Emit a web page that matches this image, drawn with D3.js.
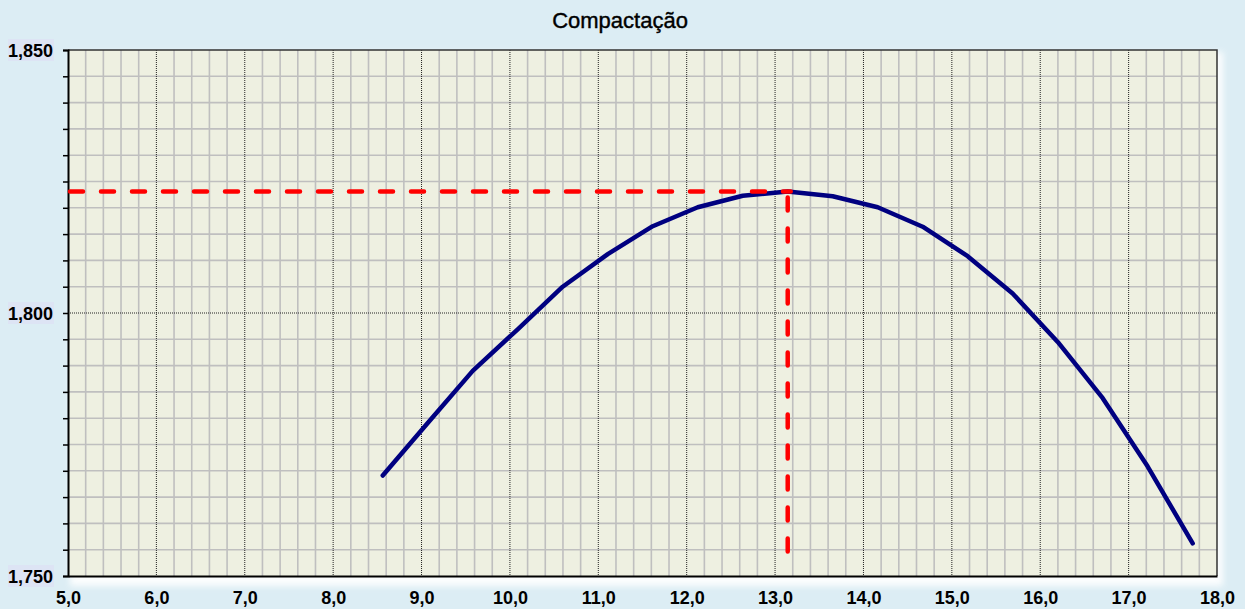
<!DOCTYPE html>
<html>
<head>
<meta charset="utf-8">
<script src="https://cdn.jsdelivr.net/npm/d3@7"></script>
<style>
  html, body { margin: 0; padding: 0; background: #dcedf4; }
  svg { display: block; }
</style>
</head>
<body>
<svg id="chart" width="1245" height="609"></svg>
<script>
// ---- data ----
const titulo = "Compactação";
const umidade = [8.561, 9.070, 9.579, 10.088, 10.597, 11.107, 11.616, 12.125, 12.634, 13.143,
                 13.652, 14.161, 14.670, 15.179, 15.688, 16.198, 16.707, 17.216, 17.725];
const densidade = [1.7691, 1.7791, 1.7890, 1.7969, 1.8050, 1.8112, 1.8165, 1.8201, 1.8223, 1.8231,
                   1.8222, 1.8201, 1.8164, 1.8108, 1.8037, 1.7945, 1.7838, 1.7708, 1.7562];
const umidadeOtima = 13.143;
const densidadeMax = 1.8231;
const xTicks = [5,6,7,8,9,10,11,12,13,14,15,16,17,18];
const yTicks = [1.75, 1.80, 1.85];

// ---- layout ----
const W = 1245, H = 609;
const L = 68, R = 1217, T = 50, B = 576;
const FONT = "'Liberation Sans', Arial, sans-serif";
const svg = d3.select("#chart");
svg.append("rect").attr("width", W).attr("height", H).attr("fill", "#dcedf4");

const x = d3.scaleLinear().domain([5, 18]).range([L, R]);
const y = d3.scaleLinear().domain([1.75, 1.85]).range([B, T]);

// shadow
const defs = svg.append("defs");
const f = defs.append("filter").attr("id", "sh").attr("x", "-5%").attr("y", "-5%").attr("width", "110%").attr("height", "120%");
f.append("feGaussianBlur").attr("stdDeviation", 3);
svg.append("rect").attr("x", L + 2).attr("y", T + 2).attr("width", R - L + 4).attr("height", B - T + 8)
  .attr("fill", "#ffffff").attr("opacity", 0.9).attr("filter", "url(#sh)");

// plot area
svg.append("rect").attr("x", L).attr("y", T).attr("width", R - L).attr("height", B - T).attr("fill", "#eef0e1");

// minor grid
const xMinor = d3.range(0, 66).map(i => 5 + i * 0.2).filter(v => Math.abs(v - Math.round(v)) > 1e-6);
const yMinor = d3.range(0, 21).map(i => 1.75 + i * 0.005).filter(v => Math.abs(v - 1.80) > 1e-6 && v > 1.7501 && v < 1.8499);
const g = svg.append("g");
g.selectAll(".xm").data(xMinor).join("line")
  .attr("x1", d => x(d)).attr("x2", d => x(d)).attr("y1", T).attr("y2", B)
  .attr("stroke", "#bfbfbf").attr("stroke-width", 1.6);
g.selectAll(".ym").data(yMinor).join("line")
  .attr("x1", L).attr("x2", R).attr("y1", d => y(d)).attr("y2", d => y(d))
  .attr("stroke", "#bfbfbf").attr("stroke-width", 1.6);
// major grid (dotted black)
g.selectAll(".xM").data(xTicks.filter(v => v > 5 && v < 18)).join("line")
  .attr("x1", d => x(d)).attr("x2", d => x(d)).attr("y1", T).attr("y2", B)
  .attr("stroke", "#222").attr("stroke-width", 1).attr("stroke-dasharray", "1,1");
g.append("line").attr("x1", L).attr("x2", R).attr("y1", y(1.80)).attr("y2", y(1.80))
  .attr("stroke", "#222").attr("stroke-width", 1).attr("stroke-dasharray", "1,1");

// border top/right
svg.append("path").attr("d", `M${L},${T}H${R}V${B}`).attr("fill", "none")
  .attr("stroke", "#333").attr("stroke-width", 1.5);

// axes
const yAxis = d3.axisLeft(y).tickValues(d3.range(0, 21).map(i => 1.75 + i * 0.005)).tickSize(5).tickFormat("");
const ya = svg.append("g").attr("transform", `translate(${L},0)`).call(yAxis);
ya.select(".domain").attr("stroke", "#000").attr("stroke-width", 2);
ya.selectAll(".tick line").attr("stroke", "#000").attr("stroke-width", 1.5);

const xAxis = d3.axisBottom(x).tickValues(xTicks).tickSize(0).tickPadding(0)
  .tickFormat(d => d3.format(".1f")(d).replace(".", ","));
const xa = svg.append("g").attr("transform", `translate(0,${B})`).call(xAxis);
xa.select(".domain").attr("stroke", "#000").attr("stroke-width", 2);
xa.selectAll(".tick text").attr("y", 28).attr("dy", 0)
  .attr("font-family", FONT).attr("font-size", 18)
  .attr("font-weight", "bold").attr("fill", "#000");

// y labels with box
const yl = svg.append("g");
yTicks.forEach(v => {
  const gg = yl.append("g");
  gg.append("rect").attr("x", 8).attr("y", y(v) - 11).attr("width", 46).attr("height", 22).attr("fill", "#dde4f4");
  gg.append("text").attr("x", 53).attr("y", y(v) + 7).attr("text-anchor", "end")
    .attr("font-family", FONT).attr("font-size", 18).attr("font-weight", "bold")
    .attr("fill", "#000").text(d3.format(".3f")(v).replace(".", ","));
});

// title
svg.append("text").attr("x", 620).attr("y", 28).attr("text-anchor", "middle")
  .attr("font-family", FONT).attr("font-size", 22).attr("fill", "#000")
  .attr("stroke", "#000").attr("stroke-width", 0.4).text(titulo);

// curve
const pts = umidade.map((u, i) => [u, densidade[i]]);
svg.append("path").datum(pts)
  .attr("d", d3.line().x(d => x(d[0])).y(d => y(d[1])))
  .attr("fill", "none").attr("stroke", "#000080").attr("stroke-width", 4.5)
  .attr("stroke-linecap", "round").attr("stroke-linejoin", "round");

// optimum dashed lines
svg.append("path")
  .attr("d", `M${x(5) + 2},${y(densidadeMax)}H${x(umidadeOtima) + 3}`)
  .attr("fill", "none").attr("stroke", "#ff0000").attr("stroke-width", 4.5)
  .attr("stroke-linecap", "round").attr("stroke-dasharray", "13,18");
svg.append("path")
  .attr("d", `M${x(umidadeOtima)},${y(densidadeMax) + 6}V${y(1.75) - 10}`)
  .attr("fill", "none").attr("stroke", "#ff0000").attr("stroke-width", 4.5)
  .attr("stroke-linecap", "round").attr("stroke-dasharray", "13,18");
</script>
</body>
</html>
